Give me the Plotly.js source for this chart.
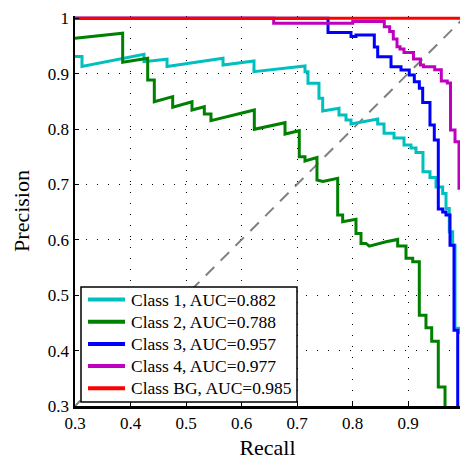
<!DOCTYPE html>
<html>
<head>
<meta charset="utf-8">
<script src="https://cdn.plot.ly/plotly-3.0.0.min.js"></script>
<style>html,body{margin:0;padding:0;background:#fff;}#chart{width:460px;height:460px;}</style>
</head>
<body>
<div id="chart"></div>
<script>
const classNames = ["Class 1, AUC=0.882", "Class 2, AUC=0.788", "Class 3, AUC=0.957", "Class 4, AUC=0.977", "Class BG, AUC=0.985"];
const classColors = ["#00BFBF", "#008000", "#0000FF", "#BF00BF", "#FF0000"];

const class1Recall = [0.3, 0.3126, 0.3126, 0.4243, 0.4243, 0.4658, 0.4658, 0.5667, 0.5667, 0.6225, 0.6225, 0.7144, 0.7144, 0.7198, 0.7198, 0.7396, 0.7396, 0.7463, 0.7463, 0.7757, 0.7757, 0.7883, 0.7883, 0.7973, 0.7973, 0.8454, 0.8454, 0.8568, 0.8568, 0.8748, 0.8748, 0.8928, 0.8928, 0.9054, 0.9054, 0.9144, 0.9144, 0.927, 0.927, 0.9396, 0.9396, 0.9505, 0.9505, 0.9625, 0.9625, 0.9685, 0.9685, 0.9744, 0.9744, 0.9805, 0.9805, 0.9847, 0.9847, 0.9919, 0.9919];
const class1Precision = [0.931, 0.931, 0.913, 0.935, 0.9216, 0.926, 0.913, 0.9277, 0.9156, 0.9229, 0.9035, 0.9138, 0.9035, 0.9035, 0.8826, 0.8826, 0.8555, 0.8555, 0.8325, 0.8374, 0.8253, 0.8253, 0.8163, 0.8163, 0.809, 0.8181, 0.809, 0.809, 0.7922, 0.7922, 0.7837, 0.7837, 0.7711, 0.7711, 0.7657, 0.7657, 0.7575, 0.7575, 0.7229, 0.7229, 0.7124, 0.7124, 0.6952, 0.6952, 0.6838, 0.6838, 0.6567, 0.6567, 0.6145, 0.6145, 0.5904, 0.5904, 0.4405, 0.4405, 0.43];

const class2Recall = [0.3, 0.3859, 0.3859, 0.431, 0.431, 0.4429, 0.4429, 0.476, 0.476, 0.5108, 0.5108, 0.533, 0.533, 0.545, 0.545, 0.6231, 0.6231, 0.6784, 0.6784, 0.7041, 0.7041, 0.7144, 0.7144, 0.736, 0.736, 0.7468, 0.7733, 0.7733, 0.7823, 0.7823, 0.8063, 0.8063, 0.8153, 0.8153, 0.8243, 0.8303, 0.8604, 0.8814, 0.8814, 0.8964, 0.8964, 0.9085, 0.9085, 0.9204, 0.9204, 0.9324, 0.9324, 0.9427, 0.9427, 0.9546, 0.9546, 0.9667, 0.9667];
const class2Precision = [0.9639, 0.9729, 0.9205, 0.9277, 0.8885, 0.8885, 0.8493, 0.8584, 0.8392, 0.8493, 0.8343, 0.8403, 0.8271, 0.8271, 0.815, 0.8343, 0.7995, 0.8114, 0.791, 0.7969, 0.75, 0.75, 0.7422, 0.7485, 0.7079, 0.7052, 0.7109, 0.6446, 0.6446, 0.6325, 0.6369, 0.6116, 0.6116, 0.5935, 0.5935, 0.5886, 0.5964, 0.6007, 0.5886, 0.5886, 0.5669, 0.5669, 0.5603, 0.5603, 0.464, 0.464, 0.4414, 0.4414, 0.417, 0.417, 0.3344, 0.3344, 0.25];

const class3Recall = [0.3, 0.7559, 0.7559, 0.7973, 0.7973, 0.8063, 0.8063, 0.8393, 0.8393, 0.8454, 0.8454, 0.8694, 0.8694, 0.8874, 0.8874, 0.9023, 0.9023, 0.9114, 0.9114, 0.9204, 0.9204, 0.9265, 0.9265, 0.9396, 0.9396, 0.9474, 0.9474, 0.9546, 0.9546, 0.9625, 0.9625, 0.9685, 0.9685, 0.9757, 0.9757, 0.9829, 0.9829, 0.9896, 0.9896];
const class3Precision = [1.0, 1.0, 0.9743, 0.9743, 0.9671, 0.9671, 0.9698, 0.9698, 0.9481, 0.9481, 0.9306, 0.9306, 0.9126, 0.9126, 0.9066, 0.9066, 0.8976, 0.8976, 0.8855, 0.8855, 0.8735, 0.8735, 0.8479, 0.8479, 0.8072, 0.8072, 0.7801, 0.7801, 0.6555, 0.6555, 0.65, 0.65, 0.6446, 0.6446, 0.5904, 0.5904, 0.4369, 0.4369, 0.25];

const class4Recall = [0.3, 0.658, 0.658, 0.8004, 0.8004, 0.8573, 0.8573, 0.867, 0.867, 0.8735, 0.8735, 0.8802, 0.8802, 0.8856, 0.8856, 0.8928, 0.8928, 0.9099, 0.9099, 0.9225, 0.9225, 0.9279, 0.9279, 0.9481, 0.9481, 0.96, 0.96, 0.9708, 0.9708, 0.9766, 0.9766, 0.9847, 0.9847, 0.9919, 0.9919, 0.9985, 0.9985];
const class4Precision = [1.0, 1.0, 0.991, 0.991, 0.9939, 0.9939, 0.9848, 0.9848, 0.9758, 0.9758, 0.9626, 0.9626, 0.9487, 0.9487, 0.9445, 0.9445, 0.9382, 0.9382, 0.9265, 0.9265, 0.9156, 0.9156, 0.9126, 0.9126, 0.9071, 0.9071, 0.8867, 0.8867, 0.8831, 0.8831, 0.7982, 0.7982, 0.777, 0.777, 0.6929, 0.6929, 0.25];

const classBGRecall = [0.3, 1.0];
const classBGPrecision = [1.0, 1.0];

const chanceRecall = [0.0, 1.0];
const chancePrecision = [0.0, 1.0];

const tickValues = [0.3, 0.4, 0.5, 0.6, 0.7, 0.8, 0.9, 1];
const tickLabels = ["0.3", "0.4", "0.5", "0.6", "0.7", "0.8", "0.9", "1"];

const seriesX = [class1Recall, class2Recall, class3Recall, class4Recall, classBGRecall];
const seriesY = [class1Precision, class2Precision, class3Precision, class4Precision, classBGPrecision];

const serif = "Liberation Serif, Times New Roman, serif";

// page geometry
const W = 460, H = 460;
const M = {l: 75, r: 0, t: 16, b: 54};
const plotW = W - M.l - M.r, plotH = H - M.t - M.b;
const px2paperX = p => (p - M.l) / plotW;
const py2paperY = p => (H - M.b - p) / plotH;

const traces = [{
  x: chanceRecall, y: chancePrecision, mode: "lines", showlegend: false, hoverinfo: "skip",
  line: {color: "#808080", width: 2, dash: "12px,9px"}
}];
for (let i = 0; i < classNames.length; i++) {
  traces.push({
    x: seriesX[i], y: seriesY[i], mode: "lines", name: classNames[i], showlegend: false,
    line: {color: classColors[i], width: 3}
  });
}

// legend box (drawn as layout shapes + annotations)
const legBox = {x0: 81, x1: 297, y0: 287, y1: 402};
const legRowY0 = 299.5, legRowStep = 22.2;
const shapes = [{
  type: "rect", xref: "paper", yref: "paper", layer: "above",
  x0: px2paperX(legBox.x0), x1: px2paperX(legBox.x1),
  y0: py2paperY(legBox.y1), y1: py2paperY(legBox.y0),
  fillcolor: "#fff", line: {color: "#000", width: 1.5}
}];
const annotations = [];
for (let i = 0; i < classNames.length; i++) {
  const ry = py2paperY(legRowY0 + i * legRowStep);
  shapes.push({
    type: "line", xref: "paper", yref: "paper", layer: "above",
    x0: px2paperX(88), x1: px2paperX(125), y0: ry, y1: ry,
    line: {color: classColors[i], width: 4}
  });
  annotations.push({
    xref: "paper", yref: "paper", x: px2paperX(129), y: ry,
    xanchor: "left", yanchor: "middle", showarrow: false,
    text: classNames[i], font: {family: serif, size: 17.5, color: "#000"}
  });
}

const layout = {
  width: W, height: H,
  margin: M,
  paper_bgcolor: "#fff", plot_bgcolor: "#fff",
  font: {family: serif, size: 17, color: "#000"},
  showlegend: false,
  shapes: shapes,
  annotations: annotations,
  xaxis: {
    range: [0.3, 0.9937], tickvals: tickValues, ticktext: tickLabels,
    showline: true, linecolor: "#000", linewidth: 2.5,
    ticks: "inside", ticklen: 4, tickcolor: "#000", tickwidth: 1,
    showgrid: true, gridcolor: "#000", gridwidth: 1, griddash: "1px,10px",
    zeroline: false, tickfont: {family: serif, size: 17},
    title: {text: "Recall", font: {family: serif, size: 22}, standoff: 17}
  },
  yaxis: {
    range: [0.3, 1.004], tickvals: tickValues, ticktext: tickLabels,
    showline: true, linecolor: "#000", linewidth: 2.5,
    ticks: "inside", ticklen: 4, tickcolor: "#000", tickwidth: 1,
    showgrid: true, gridcolor: "#000", gridwidth: 1, griddash: "1px,10px",
    zeroline: false, tickfont: {family: serif, size: 17},
    title: {text: "Precision", font: {family: serif, size: 22}, standoff: 12}
  }
};

Plotly.newPlot("chart", traces, layout, {displayModeBar: false, staticPlot: true});
</script>
</body>
</html>
